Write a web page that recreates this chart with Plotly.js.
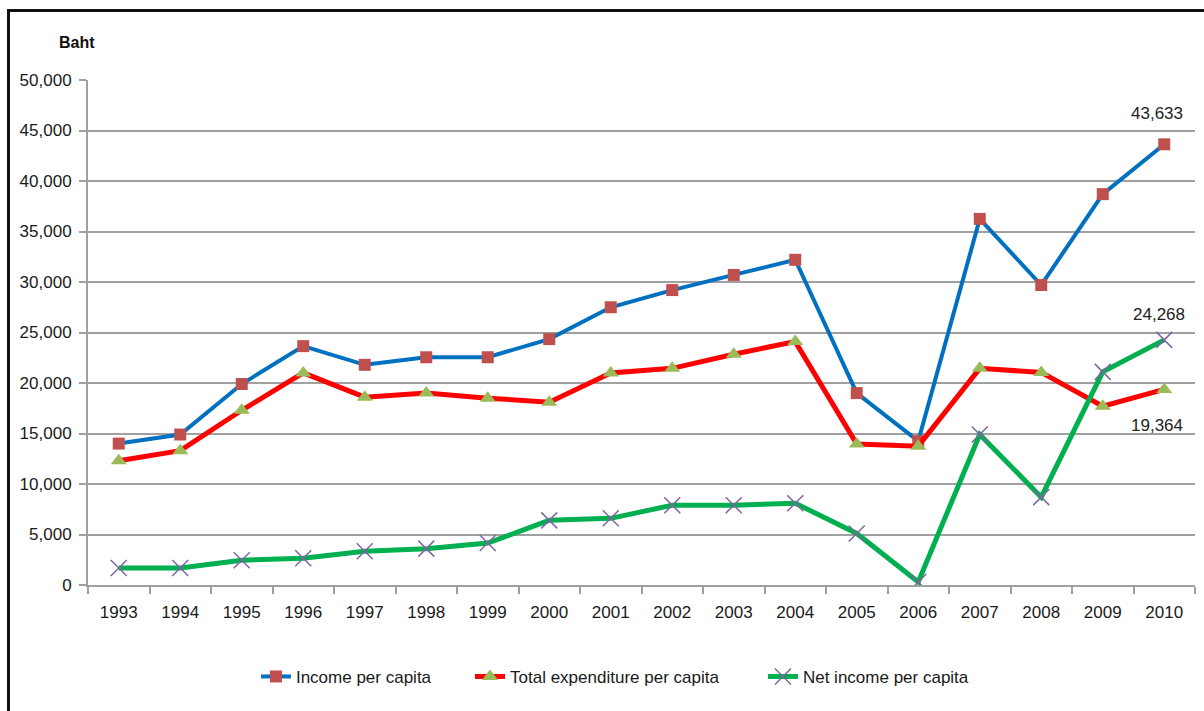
<!DOCTYPE html>
<html>
<head>
<meta charset="utf-8">
<script src="https://cdn.plot.ly/plotly-3.0.1.min.js"></script>
<style>
  html, body { margin: 0; padding: 0; background: #fff; }
  #wrap { position: relative; width: 1204px; height: 711px; overflow: hidden; }
  #chart { position: absolute; left: 0; top: 0; width: 1204px; height: 711px; }
  #frame { position: absolute; left: 7px; top: 9px; width: 1210px; height: 699px;
           border-top: 3px solid #111; border-left: 3px solid #111; border-bottom: 1px solid #cfcfcf;
           pointer-events: none; }
</style>
</head>
<body>
<div id="wrap">
  <div id="chart"></div>
  <div id="frame"></div>
</div>
<script>
const years = ['1993','1994','1995','1996','1997','1998','1999','2000','2001','2002','2003','2004','2005','2006','2007','2008','2009','2010'];
const incomePerCapita = [14000, 14900, 19900, 23650, 21800, 22550, 22550, 24350, 27500, 29200, 30700, 32200, 19000, 14250, 36250, 29700, 38700, 43633];
const expenditurePerCapita = [12300, 13300, 17300, 21000, 18600, 19000, 18500, 18100, 21000, 21450, 22850, 24100, 13950, 13750, 21450, 21050, 17700, 19364];
const netIncomePerCapita = [1680, 1680, 2450, 2650, 3350, 3600, 4150, 6400, 6600, 7900, 7900, 8100, 5100, 300, 14900, 8700, 21100, 24268];
const seriesNames = ['Income per capita', 'Total expenditure per capita', 'Net income per capita'];

const FONT = '"Liberation Sans", Arial, sans-serif';
const fmt = v => v.toLocaleString('en-US');

const traces = [
  {
    x: years, y: incomePerCapita, name: seriesNames[0], type: 'scatter', mode: 'lines+markers',
    line: { color: '#0070C0', width: 4 },
    marker: { symbol: 'square', size: 12, color: '#C0504D' },
    legend: 'legend'
  },
  {
    x: years, y: expenditurePerCapita, name: seriesNames[1], type: 'scatter', mode: 'lines+markers',
    line: { color: '#FF0000', width: 5 },
    marker: { symbol: 'triangle-up', size: 14, color: '#9BBB59' },
    legend: 'legend2'
  },
  {
    x: years, y: netIncomePerCapita, name: seriesNames[2], type: 'scatter', mode: 'lines+markers',
    line: { color: '#00B050', width: 5 },
    marker: { symbol: 'x-thin-open', size: 16, color: '#8064A2', line: { color: '#8064A2', width: 1.5 } },
    legend: 'legend3'
  }
];

const last = years.length - 1;
const labelFont = { family: FONT, size: 17, color: '#222' };
const annotations = [
  { xref: 'x', yref: 'y', x: last, y: incomePerCapita[last], text: fmt(incomePerCapita[last]),
    showarrow: false, yshift: 31, xshift: -7, font: labelFont },
  { xref: 'x', yref: 'y', x: last, y: netIncomePerCapita[last], text: fmt(netIncomePerCapita[last]),
    showarrow: false, yshift: 25, xshift: -5, font: labelFont },
  { xref: 'x', yref: 'y', x: last, y: expenditurePerCapita[last], text: fmt(expenditurePerCapita[last]),
    showarrow: false, yshift: -36, xshift: -7, font: labelFont },
  { xref: 'paper', yref: 'paper', x: -0.0099, y: 1.075, xanchor: 'center', yanchor: 'middle',
    text: '<b>Baht</b>', showarrow: false, font: { family: FONT, size: 16, color: '#111' } }
];

function legendAt(xPaper) {
  return { orientation: 'h', x: xPaper, xanchor: 'left', y: -0.182, yanchor: 'middle',
           font: { family: FONT, size: 17, color: '#1a1a1a' }, bgcolor: 'rgba(0,0,0,0)' };
}

const layout = {
  width: 1204, height: 711,
  margin: { l: 88, r: 9, t: 80, b: 126 },
  paper_bgcolor: 'rgba(0,0,0,0)', plot_bgcolor: '#fff',
  font: { family: FONT, size: 17, color: '#1a1a1a' },
  showlegend: true,
  legend: legendAt(0.1517),
  legend2: legendAt(0.3451),
  legend3: legendAt(0.6097),
  xaxis: {
    type: 'category', range: [-0.5, 17.5], tickson: 'boundaries',
    ticks: 'outside', ticklen: 7, tickwidth: 2, tickcolor: '#a0a0a0',
    showline: true, linecolor: '#a0a0a0', linewidth: 2,
    showgrid: false, zeroline: false, ticklabelstandoff: 11,
    tickfont: { family: FONT, size: 17, color: '#1a1a1a' }
  },
  yaxis: {
    range: [0, 50000], dtick: 5000, tickformat: ',d',
    ticks: 'outside', ticklen: 7, tickwidth: 2, tickcolor: '#a0a0a0',
    showline: true, linecolor: '#a0a0a0', linewidth: 2,
    showgrid: true, gridcolor: '#a0a0a0', gridwidth: 2, zeroline: false,
    ticklabelstandoff: 4,
    tickfont: { family: FONT, size: 17, color: '#1a1a1a' }
  },
  annotations: annotations
};

Plotly.newPlot('chart', traces, layout, { displayModeBar: false, staticPlot: true });
</script>
</body>
</html>
